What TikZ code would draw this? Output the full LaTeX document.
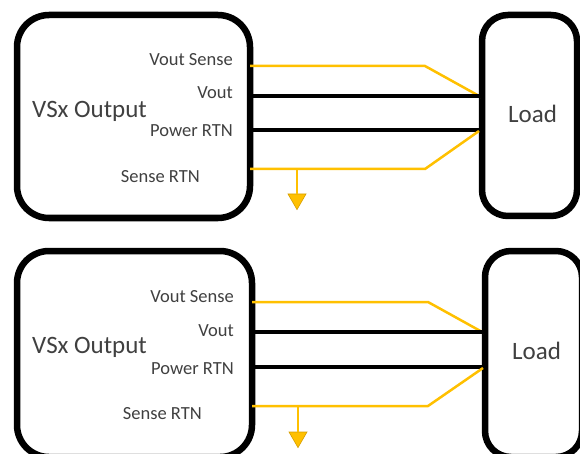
\documentclass[tikz,border=0pt]{standalone}
\usepackage{fontspec}
\setmainfont{Carlito}
\usetikzlibrary{shapes.geometric}

\begin{document}
\begin{tikzpicture}[x=1pt,y=-1pt,
	srcbox/.style={draw=BLACK, line width=6.5, rounded corners=32, fill=WHITE, inner sep=0},
	loadbox/.style={draw=BLACK, line width=6.5, rounded corners=26, fill=WHITE, inner sep=0},
	pinlbl/.style={anchor=base east, inner sep=0, text=TXT, font=\fontsize{18.5}{20}\selectfont},
	biglbl/.style={anchor=base west, inner sep=0, text=TXT, font=\fontsize{25}{28}\selectfont},
	power/.style={BLACK, line width=3.5},
	sense/.style={GOLD, line width=2.5, line join=round},
	gnd/.style={regular polygon, regular polygon sides=3, shape border rotate=180,
		minimum size=20.8, inner sep=0, outer sep=0, fill=GOLD, draw=DKGOLD, line width=0.6}]

\definecolor{BLACK}{RGB}{0,0,0}
\definecolor{WHITE}{RGB}{255,255,255}
\definecolor{TXT}{RGB}{64,64,64}
\definecolor{GOLD}{RGB}{255,192,0}
\definecolor{DKGOLD}{RGB}{214,158,0}
\clip (0,0) rectangle (580,454);

% upper panel
\node[srcbox, minimum width=233, minimum height=203] (srcA) at (133.5,116.5) {};
\node[loadbox, minimum width=95, minimum height=201] (loadA) at (529.5,115.5) {};
\node[biglbl] (vsxA) at (32,118) {VSx Output};
\node[biglbl] (ldA) at (508,123) {Load};
\node[pinlbl] (vslA) at (233,66) {Vout Sense};
\node[pinlbl] (vlA) at (233,99) {Vout};
\node[pinlbl] (prlA) at (233,137) {Power RTN};
\node[pinlbl] (srlA) at (200,183) {Sense RTN};
\coordinate (vsA) at (250,66);
\coordinate (vsbA) at (425,66);
\coordinate (vseA) at (481,97);
\coordinate (voA) at (250,96);
\coordinate (voeA) at (482,96);
\coordinate (prA) at (250,130);
\coordinate (preA) at (482,130);
\coordinate (srA) at (250,169);
\coordinate (srbA) at (425,169);
\coordinate (sreA) at (479,131);
\coordinate (gndA) at (297,169);
\draw[sense] (vsA) -- (vsbA) -- (vseA);
\draw[power] (voA) -- (voeA);
\draw[power] (prA) -- (preA);
\draw[sense] (srA) -- (srbA) -- (sreA);
\node[gnd] (gsymA) at (297,199.2) {};
\draw[sense] (gndA) -- (gsymA.north);

% lower panel
\node[srcbox, minimum width=235, minimum height=206] (srcB) at (134.5,354) {};
\node[loadbox, minimum width=97, minimum height=206] (loadB) at (533.5,354) {};
\node[biglbl] (vsxB) at (32,353) {VSx Output};
\node[biglbl] (ldB) at (512,359) {Load};
\node[pinlbl] (vslB) at (234,302) {Vout Sense};
\node[pinlbl] (vlB) at (234,336) {Vout};
\node[pinlbl] (prlB) at (234,374) {Power RTN};
\node[pinlbl] (srlB) at (202,419) {Sense RTN};
\coordinate (vsB) at (252,302);
\coordinate (vsbB) at (428,302);
\coordinate (vseB) at (484,333);
\coordinate (voB) at (252,332);
\coordinate (voeB) at (485,332);
\coordinate (prB) at (252,367);
\coordinate (preB) at (485,367);
\coordinate (srB) at (252,406);
\coordinate (srbB) at (428,406);
\coordinate (sreB) at (483,368);
\coordinate (gndB) at (298,406);
\draw[sense] (vsB) -- (vsbB) -- (vseB);
\draw[power] (voB) -- (voeB);
\draw[power] (prB) -- (preB);
\draw[sense] (srB) -- (srbB) -- (sreB);
\node[gnd] (gsymB) at (298,437.2) {};
\draw[sense] (gndB) -- (gsymB.north);
\end{tikzpicture}
\end{document}
